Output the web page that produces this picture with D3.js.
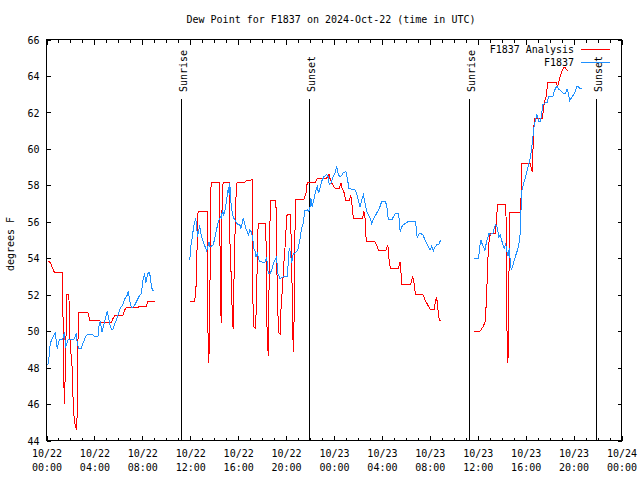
<!DOCTYPE html>
<html>
<head>
<meta charset="utf-8">
<script src="https://cdn.jsdelivr.net/npm/d3@7"></script>
<style>
  html, body { margin: 0; padding: 0; background: #ffffff; }
  svg { display: block; }
  text { font-family: "DejaVu Sans Mono", "Liberation Mono", monospace; font-size: 10px; fill: #000; }
</style>
</head>
<body>
<svg id="chart" width="640" height="480"></svg>
<script>
// ---------------- DATA (hours since 2024-10-22 00:00 UTC; null = gap) ----------------
const chartTitle = "Dew Point for F1837 on 2024-Oct-22 (time in UTC)";
const yLabel = "degrees F";
const seriesNames = ["F1837 Analysis", "F1837"];
const seriesColors = ["#ff0000", "#1e90ff"];

const yTicks = [44, 46, 48, 50, 52, 54, 56, 58, 60, 62, 64, 66];
const xMajorHours = [0, 4, 8, 12, 16, 20, 24, 28, 32, 36, 40, 44, 48];
const xTickLabels1 = ["10/22","10/22","10/22","10/22","10/22","10/22","10/23","10/23","10/23","10/23","10/23","10/23","10/24"];
const xTickLabels2 = ["00:00","04:00","08:00","12:00","16:00","20:00","00:00","04:00","08:00","12:00","16:00","20:00","00:00"];

const sunHours = [11.27, 21.96, 35.28, 45.95];
const sunLabels = ["Sunrise", "Sunset", "Sunrise", "Sunset"];

const redHours = [
  0.11,0.31,0.67,1.37,1.37,1.42,1.5,1.56,1.59,1.67,1.70,1.87,1.92,2.0,2.12,2.2,2.29,2.42,2.54,2.56,2.62,2.68,3.46,3.6,4.43,4.57,5.41,5.55,5.69,6.38,6.52,6.66,7.64,7.78,8.33,8.47,9.03,
  null,
  11.96,12.32,12.46,12.51,12.65,13.41,13.46,13.55,13.63,13.68,13.74,14.41,14.46,14.52,14.58,14.63,14.74,15.25,15.30,15.41,15.5,15.58,15.66,15.80,15.91,16.56,16.69,17.17,17.2,17.31,17.45,17.53,17.61,17.67,18.31,18.39,18.51,18.56,18.62,18.70,19.15,19.2,19.26,19.37,19.51,19.57,19.68,19.85,19.96,20.04,20.12,20.37,20.46,20.54,20.6,20.68,20.77,21.49,21.57,21.66,21.77,22.46,22.6,23.38,23.58,23.66,23.86,24.08,24.44,24.58,24.67,24.86,24.97,25.28,25.39,25.47,25.56,25.61,26.39,26.5,26.59,26.64,26.73,27.42,27.62,27.70,28.34,28.48,28.54,28.62,28.74,29.38,29.46,29.52,29.57,29.65,30.41,30.57,30.66,30.80,31.41,31.61,31.88,32.02,32.36,32.47,32.55,32.64,32.72,32.81,32.92,
  null,
  35.7,36.2,36.43,36.62,36.68,36.76,36.82,36.9,36.98,37.1,37.46,37.54,37.65,38.35,38.38,38.43,38.52,38.57,38.63,38.69,39.49,39.58,39.63,39.69,40.38,40.47,40.55,40.61,40.72,41.39,41.5,41.58,41.72,41.83,42.56,42.67,42.84,43.03,43.17,43.31,43.51
];
const redValues = [
  53.85,53.77,53.2,53.2,51.37,47.85,46.02,47.58,48.95,50.5,52.01,52.01,50.23,49.04,48.31,46.57,45.38,44.73,44.59,46.2,49.23,51.02,51.02,50.6,50.6,50.49,50.49,50.69,50.86,50.86,51.15,51.3,51.3,51.37,51.37,51.65,51.65,
  null,
  51.63,51.63,51.94,53.13,56.54,56.54,50.42,48.27,50.78,55.73,58.17,58.17,56.19,52.47,50.47,56.28,58.17,58.17,55.18,53.13,51.15,50.12,53.13,57.15,58.17,58.17,58.26,58.3,52.25,50.23,50.14,51.61,54.45,55.92,55.92,50.51,48.64,51.33,55.0,57.15,57.15,55.18,52.25,49.94,49.83,51.15,52.25,54.08,55.0,56.28,56.41,56.41,54.08,50.78,48.86,50.97,57.24,57.24,57.38,57.57,58.17,58.17,58.39,58.39,58.61,58.39,58.06,57.84,57.84,58.12,57.84,57.57,57.16,57.16,57.44,57.16,56.56,56.19,56.19,56.56,56.19,55.28,54.91,54.91,54.63,54.45,54.45,54.73,54.45,53.72,53.41,53.41,53.72,53.81,53.44,52.58,52.58,52.98,52.75,52.03,52.03,51.7,51.37,51.19,51.19,51.61,51.88,51.52,50.88,50.6,50.6,
  null,
  50.0,50.0,50.23,50.51,51.15,52.34,53.53,54.63,55.18,55.37,55.37,55.83,56.96,56.96,54.82,50.33,48.24,50.33,54.82,56.52,56.52,56.47,57.75,59.18,59.18,58.94,58.76,59.95,61.69,61.69,62.24,62.61,62.88,63.62,63.62,63.43,63.89,64.26,64.44,64.44,64.26
];

const blueHours = [
  0.11,0.2,0.31,0.47,0.61,0.72,0.81,0.89,0.98,1.09,1.31,1.42,1.5,1.59,1.67,1.78,1.92,2.26,2.37,2.48,2.56,2.68,2.9,3.04,3.26,3.40,3.87,4.01,4.29,4.37,4.49,4.63,4.77,4.93,5.07,5.18,5.27,5.41,5.55,5.69,5.82,5.96,6.1,6.24,6.38,6.55,6.74,6.83,6.94,7.08,7.22,7.36,7.5,7.64,7.78,7.92,8.05,8.19,8.28,8.39,8.5,8.61,8.69,8.83,8.97,
  null,
  11.96,12.04,12.15,12.23,12.32,12.43,12.51,12.6,12.71,12.79,12.88,12.99,13.07,13.18,13.29,13.38,13.46,13.57,13.63,13.77,13.91,14.05,14.19,14.3,14.41,14.52,14.6,14.69,14.8,14.91,15.02,15.11,15.19,15.25,15.3,15.39,15.47,15.58,15.72,15.86,15.99,16.14,16.22,16.33,16.42,16.53,16.64,16.75,16.86,16.97,17.08,17.2,17.31,17.42,17.48,17.59,17.7,17.81,18.23,18.37,18.51,18.65,18.79,18.92,19.06,19.2,19.31,19.48,19.76,19.9,20.09,20.18,20.26,20.37,20.46,20.6,20.73,20.87,21.01,21.15,21.29,21.43,21.57,21.77,21.88,21.99,22.07,22.18,22.32,22.46,22.6,22.71,22.83,22.96,23.16,23.38,23.52,23.6,23.75,23.88,24.08,24.22,24.36,24.5,24.64,24.78,25.0,25.11,25.25,25.47,25.75,25.89,26.03,26.17,26.31,26.45,26.59,26.73,26.87,27.01,27.14,27.34,27.56,27.79,27.98,28.26,28.4,28.48,28.54,28.82,28.96,29.1,29.38,29.46,29.52,29.65,29.79,30.02,30.21,30.77,30.85,30.91,30.96,31.08,31.24,31.41,31.61,31.8,32.02,32.16,32.3,32.44,32.58,32.72,32.8,32.92,
  null,
  35.7,36.07,36.15,36.26,36.37,36.48,36.59,36.71,36.82,36.93,37.04,37.15,37.26,37.38,37.49,37.6,37.68,37.76,37.88,37.99,38.07,38.15,38.24,38.32,38.43,38.52,38.63,38.71,38.79,38.9,39.05,39.18,39.32,39.44,39.55,39.6,39.69,39.83,39.97,40.11,40.24,40.38,40.52,40.61,40.72,40.83,40.94,41.03,41.11,41.22,41.33,41.44,41.64,41.78,41.92,42.06,42.28,42.39,42.5,42.61,42.73,42.84,42.95,43.06,43.17,43.31,43.45,43.59,43.67,43.81,44.01,44.15,44.29,44.42,44.56,44.68
];
const blueValues = [
  48.13,48.49,49.32,49.59,49.78,49.92,49.5,49.04,49.32,49.54,49.54,49.68,49.96,49.13,49.23,49.5,49.54,49.54,49.68,49.87,49.41,49.04,49.04,49.32,49.68,49.81,49.81,49.68,49.68,50.23,50.56,49.96,50.33,50.75,51.06,50.75,50.42,50.1,50.1,50.42,50.56,50.88,51.15,51.33,51.48,51.79,51.98,52.21,51.7,51.3,51.33,51.43,51.61,51.79,51.98,52.07,52.8,53.17,52.62,52.98,53.22,53.22,52.8,52.25,52.25,
  null,
  53.9,54.63,55.09,55.46,55.83,56.14,56.01,55.18,55.55,55.79,55.37,55.09,54.91,54.73,54.54,54.36,54.63,54.91,54.63,54.67,54.73,55.09,55.55,55.88,56.1,56.28,56.19,56.65,56.38,56.65,57.11,57.57,57.93,57.48,58.12,57.11,56.65,56.28,56.1,55.92,55.86,55.83,55.64,55.92,56.19,55.92,55.64,55.46,55.28,55.55,55.46,55.18,54.54,54.36,54.08,54.27,53.99,53.81,53.77,54.08,53.17,53.13,53.35,53.63,53.9,54.08,53.17,52.89,52.98,53.02,53.02,53.72,54.54,54.27,53.72,54.27,54.27,54.36,54.54,55.0,55.64,55.92,56.6,56.65,56.56,56.74,57.29,56.83,57.2,57.66,57.93,57.57,57.84,58.21,58.48,58.58,58.48,58.06,58.12,58.39,58.67,59.03,58.58,58.48,58.52,58.7,58.76,58.39,57.84,57.79,57.75,57.57,57.2,56.83,57.2,57.48,57.02,56.56,56.38,56.19,55.92,56.19,56.47,56.74,57.11,57.11,56.93,56.38,56.1,56.1,56.28,56.43,56.43,56.01,55.46,55.73,55.83,55.95,56.01,56.01,55.73,55.28,55.09,55.33,55.37,55.28,55.0,54.73,54.45,54.67,54.41,54.63,54.73,54.73,54.85,55.0,
  null,
  53.99,53.99,54.54,55.0,54.78,54.63,54.41,54.82,55.09,55.37,55.28,55.37,55.37,55.64,55.83,55.73,55.46,55.18,55.28,55.0,54.82,54.63,54.54,54.82,54.36,54.12,54.54,53.9,53.35,53.53,53.9,54.18,54.45,54.82,55.37,56.47,57.75,58.12,58.39,58.76,59.13,59.49,60.13,60.68,61.33,61.6,61.88,61.69,61.51,61.51,61.88,62.43,62.52,62.52,62.85,62.88,62.88,63.16,63.34,63.43,63.29,63.25,63.16,63.1,63.03,63.03,63.29,62.98,62.65,62.79,62.98,63.16,63.43,63.4,63.29,63.29
];

// ---------------- CHART ----------------
const startMs = Date.UTC(2024, 9, 22);
const toDate = h => new Date(startMs + h * 3600000);

const L = 46.5, R = 621.5, T = 39.5, B = 440.5;
const svg = d3.select("#chart");

const x = d3.scaleUtc().domain([toDate(0), toDate(48)]).range([L, R]);
const y = d3.scaleLinear().domain([44, 66]).range([B, T]);

const majorDates = xMajorHours.map(toDate);
const minorDates = d3.range(0, 49, 1).filter(h => h % 4 !== 0).map(toDate);

// Bottom axis - minor ticks
svg.append("g").attr("transform", `translate(0,${B})`)
  .call(d3.axisBottom(x).tickValues(minorDates).tickSizeInner(-3).tickSizeOuter(0).tickFormat(() => ""))
  .call(g => g.select(".domain").remove());
// Bottom axis - major ticks + labels (two lines)
const bAx = svg.append("g").attr("transform", `translate(0,${B})`)
  .call(d3.axisBottom(x).tickValues(majorDates).tickSizeInner(-5).tickSizeOuter(0).tickPadding(9).tickFormat(() => ""))
  .call(g => g.select(".domain").remove());
bAx.selectAll(".tick text").each(function(d, i) {
  const t = d3.select(this);
  t.attr("fill", "#000").attr("font-family", null).attr("font-size", null).attr("dy", null);
  t.append("tspan").attr("x", 0).attr("dy", "0.75em").text(xTickLabels1[i]);
  t.append("tspan").attr("x", 0).attr("dy", "1.4em").text(xTickLabels2[i]);
});
// Top axis mirror
svg.append("g").attr("transform", `translate(0,${T})`)
  .call(d3.axisTop(x).tickValues(minorDates).tickSizeInner(-3).tickSizeOuter(0).tickFormat(() => ""))
  .call(g => g.select(".domain").remove());
svg.append("g").attr("transform", `translate(0,${T})`)
  .call(d3.axisTop(x).tickValues(majorDates).tickSizeInner(-5).tickSizeOuter(0).tickFormat(() => ""))
  .call(g => g.select(".domain").remove());

// Left axis
svg.append("g").attr("transform", `translate(${L},0)`)
  .call(d3.axisLeft(y).tickValues(yTicks).tickSizeInner(-4).tickSizeOuter(0).tickPadding(7).tickFormat(d3.format("d")))
  .call(g => g.select(".domain").remove())
  .call(g => g.selectAll(".tick text").attr("fill", "#000").attr("font-family", null).attr("font-size", null).attr("dy", "0.36em"));
// Right axis mirror
svg.append("g").attr("transform", `translate(${R},0)`)
  .call(d3.axisRight(y).tickValues(yTicks).tickSizeInner(-4).tickSizeOuter(0).tickFormat(() => ""))
  .call(g => g.select(".domain").remove());

svg.selectAll(".tick line").attr("stroke", "#000").attr("shape-rendering", "crispEdges");

// Frame
svg.append("rect").attr("x", L).attr("y", T).attr("width", R - L).attr("height", B - T)
  .attr("fill", "none").attr("stroke", "#000").attr("shape-rendering", "crispEdges");

// Sunrise / sunset lines
sunHours.forEach((h, i) => {
  const sx = Math.round(x(toDate(h)) - 0.5) + 0.5;
  svg.append("line").attr("x1", sx).attr("x2", sx).attr("y1", 99).attr("y2", B)
    .attr("stroke", "#000").attr("shape-rendering", "crispEdges");
  svg.append("text").attr("transform", `translate(${sx + 5},92) rotate(-90)`)
    .attr("text-anchor", "start").text(sunLabels[i]);
});

// Series lines
function makePoints(hours, values) {
  return hours.map((h, i) => (h === null || values[i] === null) ? null : { t: toDate(h), v: values[i] });
}
const line = d3.line().defined(d => d !== null).x(d => x(d.t)).y(d => y(d.v));
const plotG = svg.append("g");
plotG.append("path").datum(makePoints(redHours, redValues))
  .attr("d", line).attr("fill", "none").attr("stroke", seriesColors[0]).attr("stroke-width", 1)
  .attr("shape-rendering", "crispEdges");
plotG.append("path").datum(makePoints(blueHours, blueValues))
  .attr("d", line).attr("fill", "none").attr("stroke", seriesColors[1]).attr("stroke-width", 1)
  .attr("shape-rendering", "crispEdges");

// Legend
seriesNames.forEach((name, i) => {
  const ly = 49.5 + i * 13;
  svg.append("text").attr("x", 574).attr("y", ly + 3.6).attr("text-anchor", "end").text(name);
  svg.append("line").attr("x1", 581).attr("x2", 610).attr("y1", ly).attr("y2", ly)
    .attr("stroke", seriesColors[i]).attr("shape-rendering", "crispEdges");
});

// Title
svg.append("text").attr("x", 331).attr("y", 23).attr("text-anchor", "middle").text(chartTitle);

// Y label
svg.append("text").attr("transform", "translate(14,244) rotate(-90)").attr("text-anchor", "middle").text(yLabel);
</script>
</body>
</html>
